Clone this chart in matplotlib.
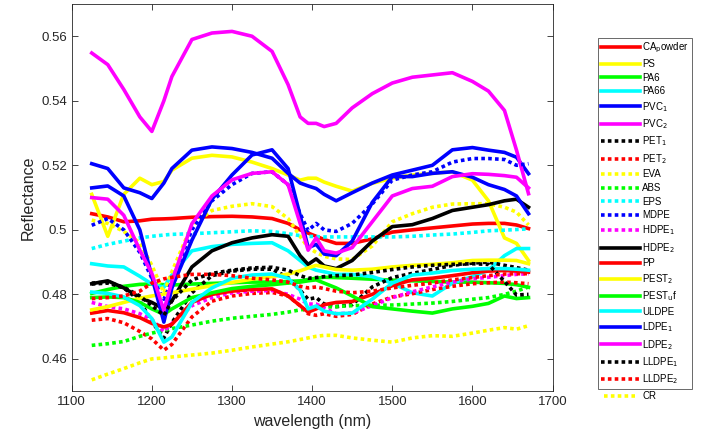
import matplotlib
matplotlib.use("Agg")
import matplotlib.pyplot as plt

plt.rcParams["font.family"] = ["Liberation Sans", "DejaVu Sans"]

# wavelength grid (nm)
wl = [1125, 1145, 1165, 1185, 1200, 1215, 1225, 1250, 1275, 1300, 1325, 1350, 1370, 1385,
      1395, 1405, 1415, 1430, 1450, 1475, 1500, 1525, 1550, 1575, 1600, 1620, 1640, 1655, 1670]

ca_powder = [.505, .504, .5025, .5028, .5033, .5034, .5035, .5039, .5041, .5042, .504, .5035, .502, .500, .499,
             .498, .497, .4958, .4958, .4972, .4993, .500, .5006, .5012, .5018, .502, .502, .5015, .5004]
ps = [.511, .498, .511, .516, .514, .515, .5185, .5222, .5231, .5226, .521, .519, .517, .5154, .516,
      .516, .5148, .5135, .512, .5144, .516, .517, .5175, .518, .5154, .509, .4975, .4958, .4905]
pa6 = [.4803, .4815, .4825, .4831, .4832, .483, .4829, .4832, .4834, .4836, .4838, .4838, .484, .4842, .4846,
       .485, .4853, .4852, .485, .4847, .4844, .4842, .484, .4838, .4838, .4836, .4834, .483, .4822]
pa66 = [.4895, .4888, .4885, .4856, .4832, .4822, .486, .4935, .4948, .4955, .4958, .496, .4935, .4905, .4885,
        .4875, .487, .4862, .4862, .4855, .4835, .4805, .4795, .4835, .4855, .4875, .492, .4942, .4942]
pvc1 = [.5205, .519, .513, .5115, .5097, .5145, .519, .5247, .5257, .5252, .524, .5222, .5175, .5145, .5136,
        .5128, .511, .509, .5115, .5145, .517, .5185, .520, .5248, .5255, .5247, .524, .5225, .5174]
pvc2 = [.5548, .5512, .5435, .535, .5305, .540, .5475, .559, .561, .5615, .560, .5553, .545, .535, .533,
        .533, .532, .533, .5378, .5422, .5455, .5473, .548, .5487, .546, .543, .537, .5247, .5112]
pet1 = [.4832, .4835, .482, .478, .4715, .4665, .4712, .4805, .4858, .4872, .4878, .4878, .4852, .4813, .4785,
        .479, .477, .4762, .4768, .4823, .4852, .4865, .4877, .489, .4897, .490, .489, .4883, .4875]
pet2 = [.472, .4725, .4712, .4685, .4662, .4627, .4645, .473, .4779, .4795, .4803, .4806, .4795, .4765, .474,
        .4735, .474, .4732, .4738, .477, .4792, .4802, .4815, .4825, .4833, .4836, .4838, .4836, .4833]
eva = [.503, .502, .4995, .496, .489, .4805, .487, .5015, .506, .5073, .5081, .5072, .5035, .498, .4945,
       .493, .4918, .491, .4908, .495, .5025, .505, .507, .508, .5081, .5081, .507, .5055, .5015]
abs_ = [.4642, .4647, .4654, .467, .468, .4688, .4694, .4705, .4717, .4726, .4732, .4738, .4745, .4752, .4755,
        .4758, .476, .4762, .4765, .4766, .4767, .477, .4773, .4778, .4785, .479, .480, .481, .4823]
eps = [.4942, .4955, .4965, .4975, .498, .4984, .4986, .4988, .4991, .4994, .4997, .4995, .4988, .4982, .498,
       .4979, .4978, .4978, .4978, .4978, .4978, .498, .4984, .4987, .4992, .4997, .4999, .5001, .5003]
mdpe = [.5014, .5035, .500, .493, .485, .4785, .484, .500, .509, .514, .5175, .518, .514, .505, .4998,
        .502, .500, .4995, .502, .508, .5154, .517, .518, .521, .5221, .5221, .5218, .520, .5205]
hdpe1 = [.4775, .4762, .4755, .474, .4722, .4685, .471, .4765, .479, .4805, .481, .4812, .480, .4785, .477,
         .477, .4758, .474, .4742, .4765, .479, .4808, .4823, .4838, .4848, .4853, .4858, .4862, .4864]
hdpe2 = [.4833, .4842, .482, .479, .4775, .4755, .478, .4885, .4935, .496, .4975, .4985, .498, .492, .4893,
         .491, .4888, .488, .4905, .4965, .501, .5016, .5035, .506, .507, .5078, .509, .5095, .507]
pp = [.4742, .475, .4743, .4728, .471, .4699, .4707, .4775, .480, .481, .4815, .4817, .4795, .4765, .4745,
      .4755, .4768, .4775, .4778, .480, .4827, .4845, .485, .4858, .4867, .4872, .4874, .4872, .4869]
pest2 = [.4752, .4762, .4775, .4788, .4795, .4801, .4805, .4816, .4827, .4837, .4847, .4855, .4863, .4873, .4882,
         .489, .4885, .4877, .4875, .4878, .4885, .489, .4893, .4898, .4905, .4906, .4906, .4905, .4895]
pest_uf = [.479, .4792, .479, .4775, .4755, .4738, .4755, .479, .4805, .4818, .4825, .483, .4835, .4838, .4842,
           .4845, .4835, .482, .4795, .4762, .4755, .4748, .4742, .4755, .4763, .4772, .4795, .4787, .479]
uldpe = [.4807, .4803, .4792, .4765, .4725, .4652, .4668, .4775, .482, .485, .486, .4863, .485, .4813, .4755,
         .4764, .4748, .474, .4742, .4785, .4835, .486, .4866, .4874, .4878, .488, .488, .4878, .4875]
ldpe1 = [.513, .5136, .5105, .500, .4855, .4714, .482, .4968, .5095, .517, .5232, .5248, .519, .5045, .4945,
         .4955, .4925, .492, .4965, .5085, .5165, .5165, .5175, .518, .5163, .514, .5125, .5105, .505]
ldpe2 = [.510, .5095, .5045, .4937, .4865, .475, .484, .5019, .5105, .5155, .5175, .518, .514, .502, .4937,
         .4975, .4935, .4928, .4945, .5025, .5105, .5128, .5135, .5165, .5174, .5172, .5168, .5163, .513]
lldpe1 = [.4835, .4838, .4822, .4795, .4765, .4735, .478, .4845, .4865, .4875, .4882, .4884, .4875, .4858, .485,
          .4852, .4855, .4858, .486, .4868, .4877, .4885, .489, .4893, .4895, .4893, .484, .4798, .480]
lldpe2 = [.4787, .479, .4795, .481, .4835, .4848, .4853, .4862, .4862, .4858, .485, .4845, .4838, .4825, .482,
          .4823, .4818, .481, .4805, .481, .482, .4828, .4835, .4845, .4852, .4858, .4863, .4864, .4864]
cr = [.4535, .4553, .457, .4588, .460, .4603, .4606, .4612, .4618, .4627, .4637, .4646, .4653, .466, .4665,
      .467, .4673, .4673, .4665, .4658, .4652, .4665, .4672, .467, .468, .4689, .4697, .4692, .4703]

labels = ["CA$_\\mathrm{p}$owder", "PS", "PA6", "PA66", "PVC$_1$", "PVC$_2$", "PET$_1$", "PET$_2$",
          "EVA", "ABS", "EPS", "MDPE", "HDPE$_1$", "HDPE$_2$", "PP", "PEST$_2$", "PEST$_\\mathrm{u}$f",
          "ULDPE", "LDPE$_1$", "LDPE$_2$", "LLDPE$_1$", "LLDPE$_2$", "CR"]
series = [ca_powder, ps, pa6, pa66, pvc1, pvc2, pet1, pet2, eva, abs_, eps, mdpe, hdpe1, hdpe2,
          pp, pest2, pest_uf, uldpe, ldpe1, ldpe2, lldpe1, lldpe2, cr]
colors = ["#ff0000", "#ffff00", "#00ff00", "#00ffff", "#0000ff", "#ff00ff", "#000000", "#ff0000",
          "#ffff00", "#00ff00", "#00ffff", "#0000ff", "#ff00ff", "#000000", "#ff0000", "#ffff00",
          "#00ff00", "#00ffff", "#0000ff", "#ff00ff", "#000000", "#ff0000", "#ffff00"]
dotted = [False] * 6 + [True] * 7 + [False] * 7 + [True] * 3

fig = plt.figure(figsize=(7.03, 4.42), dpi=100)
ax = fig.add_axes([0.102, 0.115, 0.684, 0.876])

handles = []
for y, lab, c, d in zip(series, labels, colors, dotted):
    ls = (0, (1.0, 0.9)) if d else "-"
    h, = ax.plot(wl, y, color=c, lw=2.6, ls=ls, label=lab,
                 dash_capstyle="butt", solid_joinstyle="round")
    handles.append(h)

ax.set_xlim(1100, 1700)
ax.set_ylim(0.45, 0.57)
ax.set_xticks(range(1100, 1701, 100))
ax.set_yticks([0.46, 0.48, 0.50, 0.52, 0.54, 0.56])
ax.set_yticklabels(["0.46", "0.48", "0.5", "0.52", "0.54", "0.56"])
ax.tick_params(direction="in", top=True, right=True, labelsize=9.5, colors="#262626",
               length=4, width=0.6)
for s in ax.spines.values():
    s.set_color("#262626")
    s.set_linewidth(0.6)
ax.set_xlabel("wavelength (nm)", fontsize=11.5, color="#262626")
ax.set_ylabel("Reflectance", fontsize=11.5, color="#262626")

leg1 = fig.legend(handles[:22], labels[:22], loc="upper left", bbox_to_anchor=(0.851, 0.914),
                  fontsize=7.0, handlelength=4.0, handletextpad=0.2, labelspacing=0.37,
                  borderpad=0.3, borderaxespad=0, frameon=True, fancybox=False)
leg1.get_frame().set_edgecolor("#262626")
leg1.get_frame().set_linewidth(0.6)
leg2 = fig.legend(handles[22:], labels[22:], loc="center left", bbox_to_anchor=(0.853, 0.104),
                  fontsize=7.0, handlelength=3.2, handletextpad=0.8, borderaxespad=0,
                  frameon=False)

fig.savefig("out.png", dpi=100)
